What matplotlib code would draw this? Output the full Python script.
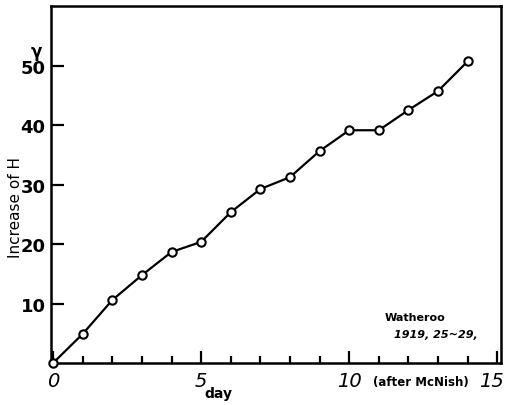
import matplotlib.pyplot as plt
import matplotlib.transforms as mtransforms

# daily increase of H (gamma)
days = [0, 1, 2, 3, 4, 5, 6, 7, 8, 9, 10, 11, 12, 13, 14]
increase = [0, 4.9, 10.6, 14.8, 18.7, 20.4, 25.4, 29.3, 31.3, 35.7, 39.2, 39.2, 42.6, 45.8, 50.8]

xmajor = [0, 5, 10, 15]
xminor = list(range(1, 15))
yticks = [10, 20, 30, 40, 50]

fig = plt.figure(figsize=(5.08, 4.06), dpi=100)
ax = fig.add_axes([0.1004, 0.1034, 0.886, 0.879])

ax.plot(days, increase, color="black", lw=1.6, marker="o", ms=6,
        mfc="white", mec="black", mew=1.5, clip_on=False, zorder=3)

ax.set_xlim(-0.07, 15.13)
ax.set_ylim(0, 60.1)

for s in ax.spines.values():
    s.set_linewidth(1.8)

ax.set_xticks(xmajor)
ax.set_xticklabels([str(v) for v in xmajor], fontsize=14, style="italic")
ax.set_xticks(xminor, minor=True)
ax.tick_params(axis="x", which="major", direction="in", length=9, width=1.6, pad=6)
ax.tick_params(axis="x", which="minor", direction="in", length=5, width=1.6)
ax.set_yticks(yticks)
ax.set_yticklabels([str(v) for v in yticks], fontsize=13, fontweight="bold")
ax.tick_params(axis="y", direction="in", length=9, width=1.6, pad=4)

# nudge the "15" so it stays inside the picture
last = ax.get_xticklabels()[-1]
last.set_transform(last.get_transform() +
                   mtransforms.ScaledTranslation(-4 / 72, 0, fig.dpi_scale_trans))

ax.text(-0.02, 0.875, "γ", transform=ax.transAxes, fontsize=12,
        fontweight="bold", ha="right", va="center")
fig.text(0.03, 0.49, "Increase of H", rotation=90, fontsize=11,
         ha="center", va="center")
fig.text(0.43, 0.03, "day", fontsize=10, fontweight="bold", ha="center", va="center")
fig.text(0.735, 0.057, "(after McNish)", fontsize=8.5, fontweight="bold",
         ha="left", va="center")
ax.text(11.2, 7.3, "Watheroo", fontsize=8, fontweight="bold")
ax.text(11.5, 4.3, "1919, 25~29,", fontsize=8, fontweight="bold", style="italic")

fig.savefig("out.png", dpi=100)
